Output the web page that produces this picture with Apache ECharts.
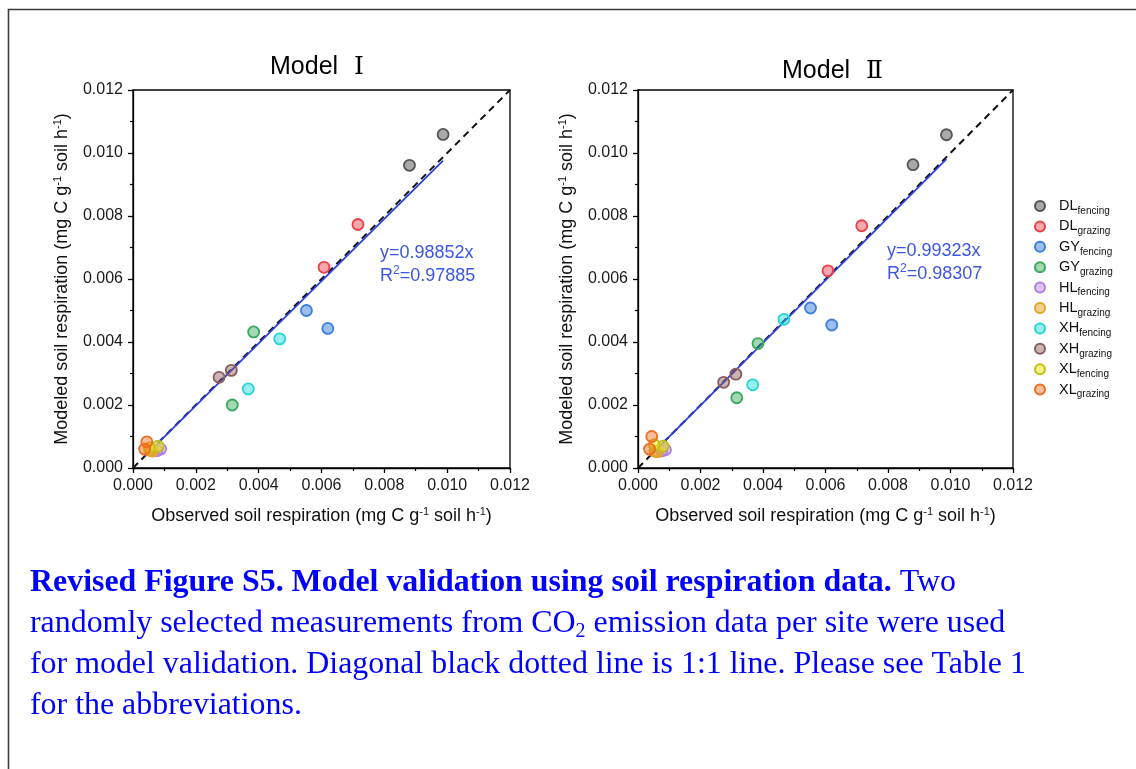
<!DOCTYPE html>
<html>
<head>
<meta charset="utf-8">
<script src="https://cdn.jsdelivr.net/npm/echarts@6/dist/echarts.min.js"></script>
<style>
  html, body { margin: 0; padding: 0; background: #ffffff; }
  #chart { width: 1136px; height: 769px; }
</style>
</head>
<body>
<div id="chart"></div>
<script>
// Site / treatment groups (two validation measurements each)
const groupSites = ['DL', 'DL', 'GY', 'GY', 'HL', 'HL', 'XH', 'XH', 'XL', 'XL'];
const groupTreatments = ['fencing', 'grazing', 'fencing', 'grazing', 'fencing', 'grazing', 'fencing', 'grazing', 'fencing', 'grazing'];

// Observed soil respiration (mg C g-1 soil h-1), first and second measurement per group
const observedFirst  = [0.00880, 0.00716, 0.00552, 0.00384, 0.00088, 0.00054, 0.00467, 0.00274, 0.00080, 0.00044];
const observedSecond = [0.00987, 0.00608, 0.00620, 0.00316, 0.00076, 0.00062, 0.00367, 0.00313, 0.00052, 0.00037];

// Modeled soil respiration, Model I
const modelIFirst  = [0.00961, 0.00773, 0.00500, 0.00432, 0.00060, 0.00056, 0.00410, 0.00288, 0.00069, 0.00083];
const modelISecond = [0.01059, 0.00637, 0.00443, 0.00200, 0.00055, 0.00054, 0.00251, 0.00310, 0.00064, 0.00060];

// Modeled soil respiration, Model II
const modelIIFirst  = [0.00963, 0.00769, 0.00508, 0.00395, 0.00058, 0.00053, 0.00472, 0.00272, 0.00069, 0.00100];
const modelIISecond = [0.01058, 0.00626, 0.00454, 0.00223, 0.00054, 0.00052, 0.00264, 0.00298, 0.00074, 0.00060];

// Regression through the origin for each model
const fitSlopes = [0.98852, 0.99323];
const fitR2 = ['0.97885', '0.98307'];
const panelNumerals = ['Ⅰ', 'Ⅱ'];

// Axis range
const axisMin = 0;
const axisMax = 0.012;
const axisStep = 0.002;

// Marker colours per group: outline and translucent fill
const strokeColors = ['#545454', '#ee3d46', '#3b7fe0', '#35a95c', '#b27fe2', '#e3a423', '#22d6d6', '#8a5c5c', '#c2bd1d', '#f06c1f'];
const fillColors = ['rgba(84,84,84,0.5)', 'rgba(238,61,70,0.45)', 'rgba(59,127,224,0.5)', 'rgba(53,169,92,0.45)',
  'rgba(178,127,226,0.45)', 'rgba(227,164,35,0.5)', 'rgba(34,214,214,0.45)', 'rgba(138,92,92,0.45)',
  'rgba(236,232,40,0.6)', 'rgba(240,108,31,0.45)'];

const SANS = 'Liberation Sans, Arial, sans-serif';
const SERIF = 'Liberation Serif, Times New Roman, serif';
const INK = '#111111';
const FIT_BLUE = '#2c40dc';
const NOTE_BLUE = '#3b55e4';
const CAPTION_BLUE = '#0000ff';

const groupNames = groupSites.map((s, i) => s + '_' + groupTreatments[i]);
const panelPredictions = [[modelIFirst, modelISecond], [modelIIFirst, modelIISecond]];
const allObserved = observedFirst.concat(observedSecond);
const fitLo = Math.min(...allObserved);
const fitHi = Math.max(...allObserved);

const grids = [
  { left: 133, top: 90, width: 377, height: 378 },
  { left: 638, top: 90, width: 375, height: 378 }
];

const supRich = {
  sup: { fontSize: 11, fontFamily: SANS, color: INK, padding: [0, 0, 10, 0] }
};

function axisCommon(gridIndex) {
  return {
    type: 'value',
    gridIndex: gridIndex,
    min: axisMin,
    max: axisMax,
    interval: axisStep,
    nameLocation: 'middle',
    nameTextStyle: { fontSize: 18, fontFamily: SANS, color: INK, lineHeight: 21, rich: supRich },
    axisLine: { show: true, lineStyle: { color: '#000', width: 1.3 } },
    axisTick: { show: true, length: 5, lineStyle: { color: '#000', width: 1.3 } },
    minorTick: { show: true, splitNumber: 2, length: 3, lineStyle: { color: '#000', width: 1.2 } },
    splitLine: { show: false },
    axisLabel: { fontSize: 16, fontFamily: SANS, color: '#1a1a1a', margin: 10,
      formatter: v => v.toFixed(3) }
  };
}

const xAxes = grids.map((g, i) => Object.assign(axisCommon(i), {
  name: 'Observed soil respiration (mg C g{sup|-1} soil h{sup|-1})',
  nameGap: 38
}));
const yAxes = grids.map((g, i) => Object.assign(axisCommon(i), {
  name: 'Modeled soil respiration (mg C g{sup|-1} soil h{sup|-1})',
  nameGap: 60
}));

const series = [];
panelPredictions.forEach((preds, p) => {
  // 1:1 reference line
  series.push({
    type: 'line', xAxisIndex: p, yAxisIndex: p, symbol: 'none', silent: true, z: 2,
    lineStyle: { color: '#111', width: 2, type: [7, 5] },
    data: [[axisMin, axisMin], [axisMax, axisMax]]
  });
  // fitted line y = slope * x
  series.push({
    type: 'line', xAxisIndex: p, yAxisIndex: p, symbol: 'none', silent: true, z: 3,
    lineStyle: { color: FIT_BLUE, width: 1.8 },
    data: [[fitLo, fitSlopes[p] * fitLo], [fitHi, fitSlopes[p] * fitHi]]
  });
  groupNames.forEach((name, g) => {
    series.push({
      type: 'scatter', name: name, xAxisIndex: p, yAxisIndex: p, z: 5,
      symbol: 'circle', symbolSize: 11,
      itemStyle: { color: fillColors[g], borderColor: strokeColors[g], borderWidth: 1.8, opacity: 1 },
      emphasis: { disabled: true },
      data: [[observedFirst[g], preds[0][g]], [observedSecond[g], preds[1][g]]]
    });
  });
});

const titlePos = [{ x: 270, y: 67 }, { x: 782, y: 71 }];
const notePos = [{ x: 380, y: 253 }, { x: 887, y: 251 }];

const graphics = [
  // page frame (top and left edges)
  { type: 'polyline', silent: true, z: 0,
    shape: { points: [[8.5, 769], [8.5, 9.5], [1136, 9.5]] },
    style: { stroke: '#3c3c3c', lineWidth: 1.6, fill: null } }
];

panelNumerals.forEach((num, p) => {
  graphics.push({
    type: 'text', silent: true,
    style: {
      text: 'Model{r|' + num + '}', x: titlePos[p].x, y: titlePos[p].y,
      align: 'left', verticalAlign: 'middle',
      fontSize: 25, fontFamily: SANS, fill: '#000',
      rich: { r: { fontSize: 25, fontFamily: 'DejaVu Serif, Liberation Serif, serif', fill: '#000', padding: [0, 0, 0, 16] } }
    }
  });
  graphics.push({
    type: 'text', silent: true,
    style: {
      text: 'y=' + fitSlopes[p] + 'x', x: notePos[p].x, y: notePos[p].y,
      align: 'left', verticalAlign: 'middle', fontSize: 18, fontFamily: SANS, fill: NOTE_BLUE
    }
  });
  graphics.push({
    type: 'text', silent: true,
    style: {
      text: 'R{sup|2}=' + fitR2[p], x: notePos[p].x, y: notePos[p].y + 23,
      align: 'left', verticalAlign: 'middle', fontSize: 18, fontFamily: SANS, fill: NOTE_BLUE,
      lineHeight: 22,
      rich: { sup: { fontSize: 12, fontFamily: SANS, fill: NOTE_BLUE, padding: [0, 0, 10, 0] } }
    }
  });
});

// figure caption
const captionLines = [
  '{b|Revised Figure S5. Model validation using soil respiration data.} Two',
  'randomly selected measurements from CO{sub|2} emission data per site were used',
  'for model validation. Diagonal black dotted line is 1:1 line. Please see Table 1',
  'for the abbreviations.'
];
const captionY = [582.5, 623.5, 664.5, 705.5];
captionLines.forEach((line, i) => {
  graphics.push({
    type: 'text', silent: true,
    style: {
      text: line, x: 30, y: captionY[i], align: 'left', verticalAlign: 'middle',
      fontSize: 31.9, fontFamily: SERIF, fill: CAPTION_BLUE, lineHeight: 32,
      rich: {
        b: { fontSize: 31.9, fontFamily: SERIF, fontWeight: 'bold', fill: CAPTION_BLUE, lineHeight: 32 },
        sub: { fontSize: 20, fontFamily: SERIF, fill: CAPTION_BLUE, padding: [16, 0, 0, 0] }
      }
    }
  });
});

const option = {
  animation: false,
  backgroundColor: '#ffffff',
  grid: grids.map(g => Object.assign({
    show: true, borderColor: '#000', borderWidth: 1.3, backgroundColor: 'transparent',
    containLabel: false, outerBoundsMode: 'none'
  }, g)),
  xAxis: xAxes,
  yAxis: yAxes,
  legend: {
    orient: 'vertical', left: 1029, top: 193,
    itemWidth: 10, itemHeight: 10, itemGap: 2.4, icon: 'circle',
    selectedMode: false,
    data: groupNames,
    formatter: name => {
      const parts = name.split('_');
      return '{g| }' + parts[0] + '{s|' + parts[1] + '}';
    },
    textStyle: {
      fontSize: 14.5, fontFamily: SANS, color: INK, lineHeight: 16,
      rich: {
        g: { width: 9 },
        s: { fontSize: 10, fontFamily: SANS, color: INK, padding: [10, 0, 0, 0] }
      }
    }
  },
  graphic: graphics,
  series: series
};

const chart = echarts.init(document.getElementById('chart'), null, { renderer: 'canvas', width: 1136, height: 769 });
chart.setOption(option);
</script>
</body>
</html>
